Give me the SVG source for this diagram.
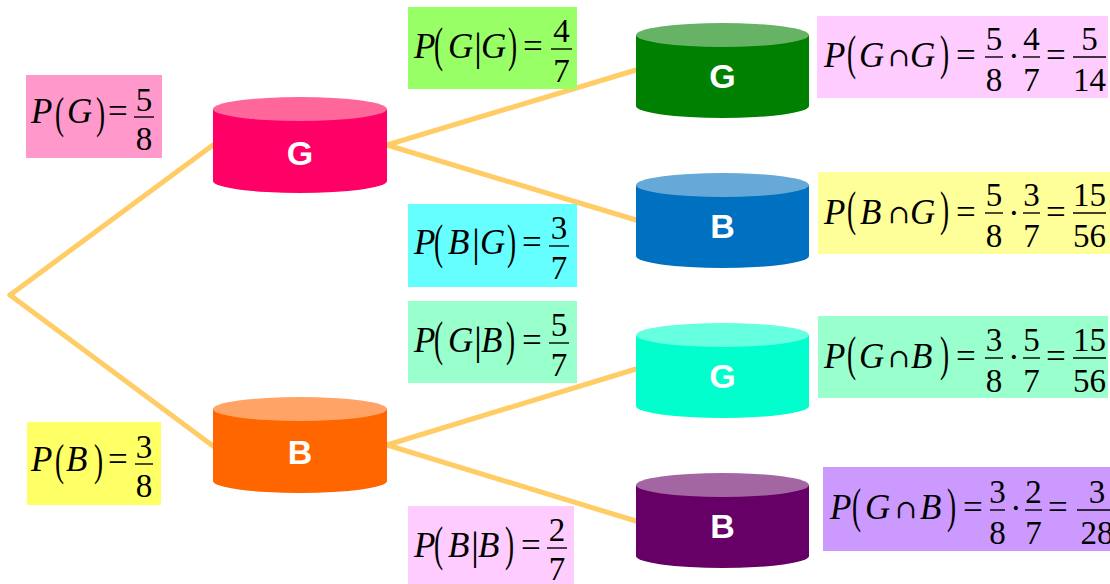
<svg xmlns="http://www.w3.org/2000/svg" width="1110" height="584" viewBox="0 0 1110 584">
<style>
.mt{font-family:"Liberation Serif","Times New Roman","DejaVu Serif",serif;fill:#000}
.it{font-style:italic;font-size:35px}
.rm{font-size:35px}
.pa{font-size:32px}
.vb{font-size:40px}
.cp{font-family:"DejaVu Serif","Liberation Serif",serif;font-size:26px}
.fr{font-size:33px;text-anchor:middle}
.bar{stroke:#000;stroke-width:1.4}
.cap{font-family:"Liberation Sans",Arial,sans-serif;font-weight:bold;font-size:34px;fill:#fff;text-anchor:middle}
.conn{stroke:#FFCC66;stroke-width:5;stroke-linecap:round;fill:none}
</style>
<rect width="1110" height="584" fill="#fff"/>
<g id="connectors">
<line class="conn" x1="10" y1="295" x2="213" y2="145"/>
<line class="conn" x1="10" y1="295" x2="213" y2="446"/>
<line class="conn" x1="387" y1="145" x2="636" y2="70"/>
<line class="conn" x1="387" y1="145" x2="636" y2="220"/>
<line class="conn" x1="387" y1="445" x2="636" y2="369"/>
<line class="conn" x1="387" y1="445" x2="636" y2="521"/>
</g>
<g id="node-G1">
<path d="M213,109 V181 A87,12 0 0 0 387,181 V109 Z" fill="#FF0066"/>
<ellipse cx="300" cy="109" rx="87" ry="12" fill="#FF6699"/>
<text class="cap" x="300" y="165">G</text>
</g>
<g id="node-B1">
<path d="M213,409 V481 A87,12 0 0 0 387,481 V409 Z" fill="#FF6600"/>
<ellipse cx="300" cy="409" rx="87" ry="12" fill="#FFA366"/>
<text class="cap" x="300" y="464">B</text>
</g>
<g id="node-GG">
<path d="M636,35 V106 A86.5,12 0 0 0 809,106 V35 Z" fill="#008000"/>
<ellipse cx="722.5" cy="35" rx="86.5" ry="12" fill="#66B366"/>
<text class="cap" x="722.5" y="88">G</text>
</g>
<g id="node-GB">
<path d="M636,185 V256 A86.5,12 0 0 0 809,256 V185 Z" fill="#0070C0"/>
<ellipse cx="722.5" cy="185" rx="86.5" ry="12" fill="#66A9D9"/>
<text class="cap" x="722.5" y="238">B</text>
</g>
<g id="node-BG">
<path d="M636,335 V406 A86.5,12 0 0 0 809,406 V335 Z" fill="#00FFCC"/>
<ellipse cx="722.5" cy="335" rx="86.5" ry="12" fill="#66FFE0"/>
<text class="cap" x="722.5" y="388">G</text>
</g>
<g id="node-BB">
<path d="M636,485 V556 A86.5,12 0 0 0 809,556 V485 Z" fill="#660066"/>
<ellipse cx="722.5" cy="485" rx="86.5" ry="12" fill="#A366A3"/>
<text class="cap" x="722.5" y="538">B</text>
</g>

<g id="label-PG">
<rect x="26" y="75" width="136" height="83" fill="#FF99CC"/>
<g class="mt" transform="translate(31,117)">
<text class="it" x="0" y="6">P</text>
<text class="pa" transform="translate(24,11) scale(0.85,1.4)">(</text>
<text class="it" x="36" y="6">G</text>
<text class="pa" transform="translate(65,11) scale(0.85,1.4)">)</text>
<text class="rm" x="77" y="6">=</text>
<line class="bar" x1="103" y1="0" x2="123" y2="0"/>
<text class="fr" x="113" y="-6">5</text>
<text class="fr" x="113" y="33">8</text>
</g>
</g>
<g id="label-PB">
<rect x="27" y="422" width="134" height="83" fill="#FFFF66"/>
<g class="mt" transform="translate(31,464)">
<text class="it" x="0" y="7">P</text>
<text class="pa" transform="translate(24,11) scale(0.85,1.4)">(</text>
<text class="it" x="35" y="7">B</text>
<text class="pa" transform="translate(63,11) scale(0.85,1.4)">)</text>
<text class="rm" x="77" y="7">=</text>
<line class="bar" x1="104" y1="0" x2="122" y2="0"/>
<text class="fr" x="113" y="-6">3</text>
<text class="fr" x="113" y="33">8</text>
</g>
</g>

<g id="label-PGgG">
<rect x="408" y="7" width="169" height="82" fill="#99FF66"/>
<g class="mt" transform="translate(414,49)">
<text class="it" x="0" y="9">P</text>
<text class="pa" transform="translate(20,12) scale(0.85,1.5)">(</text>
<text class="it" x="34" y="9">G</text>
<text class="vb" x="60" y="11">|</text>
<text class="it" x="67" y="9">G</text>
<text class="pa" transform="translate(94,12) scale(0.85,1.5)">)</text>
<text class="rm" x="109" y="9">=</text>
<line class="bar" x1="137" y1="0" x2="158" y2="0"/>
<text class="fr" x="147.5" y="-7">4</text>
<text class="fr" x="147.5" y="33">7</text>
</g>
</g>
<g id="label-PBgG">
<rect x="408" y="204" width="169" height="83" fill="#66FFFF"/>
<g class="mt" transform="translate(414,246)">
<text class="it" x="0" y="8">P</text>
<text class="pa" transform="translate(20,12) scale(0.85,1.5)">(</text>
<text class="it" x="34" y="8">B</text>
<text class="vb" x="58" y="10">|</text>
<text class="it" x="66" y="8">G</text>
<text class="pa" transform="translate(93,12) scale(0.85,1.5)">)</text>
<text class="rm" x="108" y="8">=</text>
<line class="bar" x1="135" y1="0" x2="155" y2="0"/>
<text class="fr" x="145" y="-7">3</text>
<text class="fr" x="145" y="33">7</text>
</g>
</g>
<g id="label-PGgB">
<rect x="408" y="301" width="169" height="82" fill="#99FFCC"/>
<g class="mt" transform="translate(414,343)">
<text class="it" x="0" y="9">P</text>
<text class="pa" transform="translate(20,12) scale(0.85,1.5)">(</text>
<text class="it" x="34" y="9">G</text>
<text class="vb" x="60" y="11">|</text>
<text class="it" x="67" y="9">B</text>
<text class="pa" transform="translate(92,12) scale(0.85,1.5)">)</text>
<text class="rm" x="108" y="9">=</text>
<line class="bar" x1="135" y1="0" x2="155" y2="0"/>
<text class="fr" x="145" y="-7">5</text>
<text class="fr" x="145" y="33">7</text>
</g>
</g>
<g id="label-PBgB">
<rect x="408" y="506" width="166" height="78" fill="#FFCCFF"/>
<g class="mt" transform="translate(414,548)">
<text class="it" x="0" y="9">P</text>
<text class="pa" transform="translate(20,12) scale(0.85,1.5)">(</text>
<text class="it" x="34" y="9">B</text>
<text class="vb" x="57" y="11">|</text>
<text class="it" x="64" y="9">B</text>
<text class="pa" transform="translate(91,12) scale(0.85,1.5)">)</text>
<text class="rm" x="107" y="9">=</text>
<line class="bar" x1="133" y1="0" x2="153" y2="0"/>
<text class="fr" x="143" y="-7">2</text>
<text class="fr" x="143" y="32">7</text>
</g>
</g>

<g id="label-PGandG">
<rect x="817" y="16" width="291" height="82" fill="#FFCCFF"/>
<g class="mt" transform="translate(824,57)">
<text class="it" x="0" y="10">P</text>
<text class="pa" transform="translate(23,12) scale(0.85,1.5)">(</text>
<text class="it" x="35" y="10">G</text>
<text class="cp" x="64" y="9">∩</text>
<text class="it" x="86" y="10">G</text>
<text class="pa" transform="translate(116,12) scale(0.85,1.5)">)</text>
<text class="rm" x="132" y="10">=</text>
<line class="bar" x1="161" y1="0" x2="179" y2="0"/>
<text class="fr" x="170" y="-7">5</text>
<text class="fr" x="170" y="34">8</text>
<text class="rm" x="184" y="11">·</text>
<line class="bar" x1="199" y1="0" x2="216" y2="0"/>
<text class="fr" x="207.5" y="-7">4</text>
<text class="fr" x="207.5" y="34">7</text>
<text class="rm" x="222" y="10">=</text>
<line class="bar" x1="249" y1="0" x2="282" y2="0"/>
<text class="fr" x="265.5" y="-7">5</text>
<text class="fr" x="265.5" y="34">14</text>
</g>
</g>
<g id="label-PBandG">
<rect x="818" y="172" width="292" height="82" fill="#FFFF99"/>
<g class="mt" transform="translate(824,213)">
<text class="it" x="0" y="11">P</text>
<text class="pa" transform="translate(23,12) scale(0.85,1.5)">(</text>
<text class="it" x="36" y="11">B</text>
<text class="cp" x="64" y="10">∩</text>
<text class="it" x="86" y="11">G</text>
<text class="pa" transform="translate(116,12) scale(0.85,1.5)">)</text>
<text class="rm" x="132" y="11">=</text>
<line class="bar" x1="161" y1="0" x2="179" y2="0"/>
<text class="fr" x="170" y="-7">5</text>
<text class="fr" x="170" y="34">8</text>
<text class="rm" x="184" y="12">·</text>
<line class="bar" x1="199" y1="0" x2="216" y2="0"/>
<text class="fr" x="207.5" y="-7">3</text>
<text class="fr" x="207.5" y="34">7</text>
<text class="rm" x="222" y="11">=</text>
<line class="bar" x1="249" y1="0" x2="282" y2="0"/>
<text class="fr" x="265.5" y="-7">15</text>
<text class="fr" x="265.5" y="34">56</text>
</g>
</g>
<g id="label-PGandB">
<rect x="818" y="316" width="290" height="82" fill="#99FFCC"/>
<g class="mt" transform="translate(824,358)">
<text class="it" x="0" y="10">P</text>
<text class="pa" transform="translate(23,12) scale(0.85,1.5)">(</text>
<text class="it" x="35" y="10">G</text>
<text class="cp" x="64" y="9">∩</text>
<text class="it" x="87" y="10">B</text>
<text class="pa" transform="translate(116,12) scale(0.85,1.5)">)</text>
<text class="rm" x="132" y="10">=</text>
<line class="bar" x1="161" y1="0" x2="179" y2="0"/>
<text class="fr" x="170" y="-7">3</text>
<text class="fr" x="170" y="34">8</text>
<text class="rm" x="184" y="11">·</text>
<line class="bar" x1="199" y1="0" x2="216" y2="0"/>
<text class="fr" x="207.5" y="-7">5</text>
<text class="fr" x="207.5" y="34">7</text>
<text class="rm" x="222" y="10">=</text>
<line class="bar" x1="249" y1="0" x2="282" y2="0"/>
<text class="fr" x="265.5" y="-7">15</text>
<text class="fr" x="265.5" y="34">56</text>
</g>
</g>
<g id="label-PGandB2">
<rect x="823" y="467" width="287" height="84" fill="#CC99FF"/>
<g class="mt" transform="translate(830,510)">
<text class="it" x="0" y="9">P</text>
<text class="pa" transform="translate(22,12) scale(0.85,1.5)">(</text>
<text class="it" x="35" y="9">G</text>
<text class="cp" x="65" y="8">∩</text>
<text class="it" x="90" y="9">B</text>
<text class="pa" transform="translate(117,12) scale(0.85,1.5)">)</text>
<text class="rm" x="133" y="9">=</text>
<line class="bar" x1="160" y1="0" x2="175" y2="0"/>
<text class="fr" x="167.5" y="-7">3</text>
<text class="fr" x="167.5" y="34">8</text>
<text class="rm" x="180" y="10">·</text>
<line class="bar" x1="195" y1="0" x2="212" y2="0"/>
<text class="fr" x="203.5" y="-7">2</text>
<text class="fr" x="203.5" y="34">7</text>
<text class="rm" x="218" y="9">=</text>
<line class="bar" x1="247" y1="0" x2="285" y2="0"/>
<text class="fr" x="267" y="-7">3</text>
<text class="fr" x="267" y="34">28</text>
</g>
</g>
</svg>
